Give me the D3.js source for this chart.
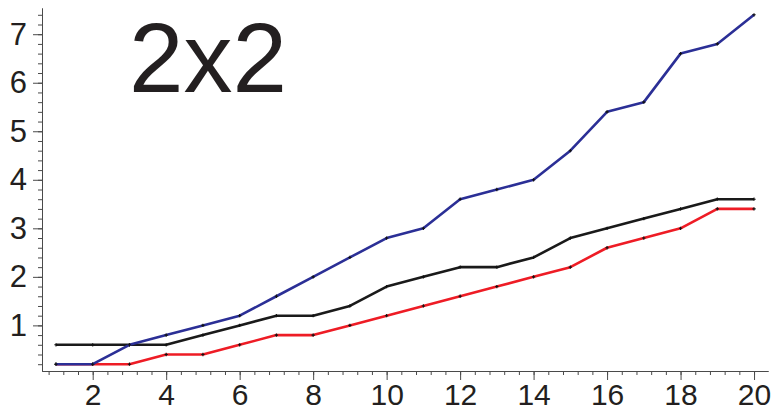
<!DOCTYPE html>
<html>
<head>
<meta charset="utf-8">
<script src="https://cdn.jsdelivr.net/npm/d3@7"></script>
<style>
  body { margin: 0; background: #fff; }
  .tick text { font-family: "Liberation Sans", Arial, sans-serif; fill: #231f20; }
</style>
</head>
<body>
<div id="chart"></div>
<script>
// data
var xs = d3.range(1, 21);
var blueVals = [0.2, 0.2, 0.6, 0.8, 1.0, 1.2, 1.6, 2.0, 2.4, 2.8, 3.0, 3.6, 3.8, 4.0, 4.6, 5.4, 5.6, 6.6, 6.8, 7.4];
var blackVals = [0.6, 0.6, 0.6, 0.6, 0.8, 1.0, 1.2, 1.2, 1.4, 1.8, 2.0, 2.2, 2.2, 2.4, 2.8, 3.0, 3.2, 3.4, 3.6, 3.6];
var redVals = [0.2, 0.2, 0.2, 0.4, 0.4, 0.6, 0.8, 0.8, 1.0, 1.2, 1.4, 1.6, 1.8, 2.0, 2.2, 2.6, 2.8, 3.0, 3.4, 3.4];
var xTicks = [2, 4, 6, 8, 10, 12, 14, 16, 18, 20];
var yTicks = [1, 2, 3, 4, 5, 6, 7];
var title = "2x2";

var width = 771, height = 411;

var svg = d3
  .select("#chart")
  .append("svg")
  .attr("width", width)
  .attr("height", height);

var x = d3.scaleLinear().domain([0.62, 20.38]).range([42, 768]);
var y = d3.scaleLinear().domain([0.06, 7.54]).range([371, 8]);

var axisColor = "#4a4a4a";

// minor ticks first
var xMinor = d3.range(0.8, 20.39, 0.4);
var yMinor = d3.range(0.2, 7.5, 0.2);

svg
  .append("g")
  .attr("transform", "translate(0," + y.range()[0] + ")")
  .call(d3.axisBottom(x).tickValues(xMinor).tickSize(4).tickSizeOuter(0).tickFormat(""))
  .call((g) => g.selectAll("line, path").attr("stroke", axisColor));

svg
  .append("g")
  .attr("transform", "translate(" + x.range()[0] + ",0)")
  .call(d3.axisLeft(y).tickValues(yMinor).tickSize(4).tickSizeOuter(0).tickFormat(""))
  .call((g) => g.selectAll("line, path").attr("stroke", axisColor));

// major ticks + labels
svg
  .append("g")
  .attr("transform", "translate(0," + y.range()[0] + ")")
  .call(d3.axisBottom(x).tickValues(xTicks).tickSize(9).tickSizeOuter(0).tickPadding(4))
  .call((g) => g.selectAll("line, path").attr("stroke", axisColor))
  .call((g) => g.selectAll("text").attr("font-size", 30));

svg
  .append("g")
  .attr("transform", "translate(" + x.range()[0] + ",0)")
  .call(d3.axisLeft(y).tickValues(yTicks).tickSize(9).tickSizeOuter(0).tickPadding(6))
  .call((g) => g.selectAll("line, path").attr("stroke", axisColor))
  .call((g) => g.selectAll("text").attr("font-size", 31));

// lines
var line = d3
  .line()
  .x((d, i) => x(xs[i]))
  .y((d) => y(d));

var series = [
  { vals: redVals, color: "#ee1c25" },
  { vals: blackVals, color: "#1a1a1a" },
  { vals: blueVals, color: "#2b2f96" },
];

series.forEach(function (s) {
  svg
    .append("path")
    .datum(s.vals)
    .attr("d", line)
    .attr("fill", "none")
    .attr("stroke", s.color)
    .attr("stroke-width", 2.6)
    .attr("stroke-linejoin", "round");

  // small point markers
  svg
    .append("g")
    .selectAll("path")
    .data(s.vals)
    .enter()
    .append("path")
    .attr("d", d3.symbol(d3.symbolCross, 6))
    .attr("transform", (d, i) => "translate(" + x(xs[i]) + "," + y(d) + ")")
    .attr("fill", "#111");
});

// big title
svg
  .append("text")
  .attr("x", 129)
  .attr("y", 92)
  .attr("font-family", "'Liberation Sans', Arial, sans-serif")
  .attr("font-size", 98)
  .attr("fill", "#231f20")
  .text(title);
</script>
</body>
</html>
